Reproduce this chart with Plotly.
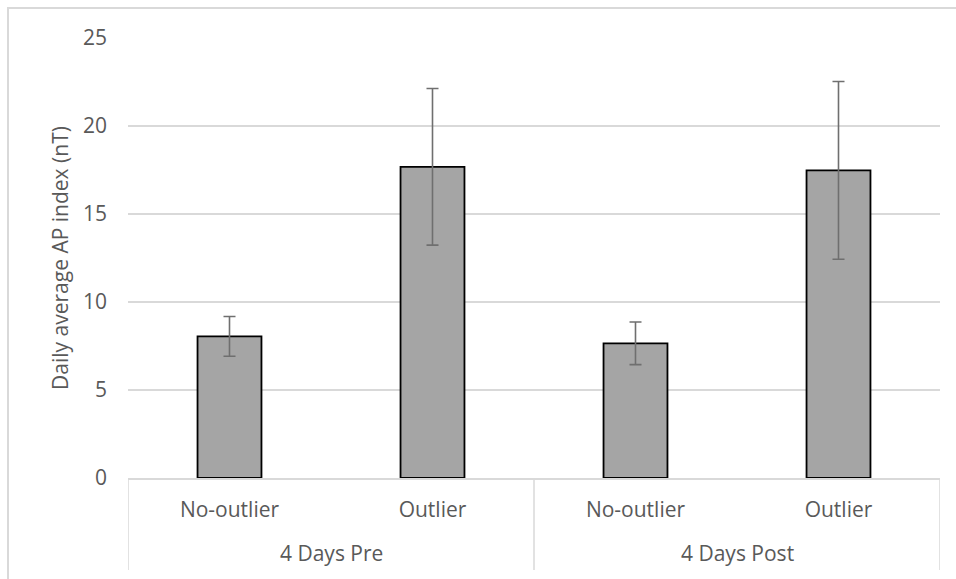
import plotly.graph_objects as go

# Period groups and sub-categories
periods = ["4 Days Pre", "4 Days Post"]
groups = ["No-outlier", "Outlier", "No-outlier", "Outlier"]

# Mean daily Ap index (nT) and error-bar half-lengths
ap_mean = [8.05, 17.68, 7.65, 17.48]
ap_err = [1.13, 4.45, 1.21, 5.05]

y_ticks = [0, 5, 10, 15, 20, 25]

FONT = "Open Sans, Lato, sans-serif"
TEXT = "#595959"
GRID = "#d9d9d9"
FS = 21

xpos = list(range(len(groups)))
per_group = len(groups) // len(periods)

# plot-area geometry in pixels (used to express offsets below the axis in paper units)
PLOT_H = 579 - 38 - 101

fig = go.Figure(
    go.Bar(
        x=xpos,
        y=ap_mean,
        marker=dict(color="#a5a5a5", line=dict(color="#000000", width=1.8)),
        error_y=dict(type="data", array=ap_err, visible=True,
                     color="#6f6f6f", thickness=1.6, width=6),
        width=0.315,
    )
)

shapes = [
    # outer chart frame
    dict(type="rect", xref="paper", yref="paper",
         x0=-120 / 812, x1=1.2, y0=-0.5, y1=1 + 30 / PLOT_H,
         line=dict(color=GRID, width=2), layer="below"),
]
# group dividers below the category axis
for k in range(len(periods) + 1):
    xd = k * per_group - 0.5
    shapes.append(dict(type="line", xref="x", yref="paper",
                       x0=xd, x1=xd, y0=0, y1=-92 / PLOT_H,
                       line=dict(color=GRID, width=1.5)))

annotations = []
for k, name in enumerate(periods):
    annotations.append(dict(
        x=k * per_group + (per_group - 1) / 2, xref="x",
        y=-75 / PLOT_H, yref="paper", yanchor="middle",
        text=name, showarrow=False,
        font=dict(family=FONT, color=TEXT, size=FS),
    ))

fig.update_layout(
    width=956,
    height=579,
    margin=dict(l=128, r=16, t=38, b=101),
    paper_bgcolor="white",
    plot_bgcolor="white",
    showlegend=False,
    font=dict(family=FONT, color=TEXT, size=FS),
    xaxis=dict(
        range=[-0.5, len(groups) - 0.5],
        tickvals=xpos,
        ticktext=groups,
        showline=True,
        linecolor=GRID,
        linewidth=1.5,
        showgrid=False,
        zeroline=False,
        ticks="outside",
        ticklen=12,
        tickcolor="rgba(0,0,0,0)",
        tickfont=dict(family=FONT, color=TEXT, size=FS),
    ),
    yaxis=dict(
        range=[0, 25],
        tickvals=y_ticks,
        showgrid=True,
        gridcolor=GRID,
        gridwidth=1.5,
        zeroline=False,
        showline=False,
        tickfont=dict(family=FONT, color=TEXT, size=FS),
        ticklabelstandoff=20,
        title=dict(text="Daily average AP index (nT)",
                   font=dict(family=FONT, color=TEXT, size=FS),
                   standoff=8),
    ),
    shapes=shapes,
    annotations=annotations,
)

fig.write_html("out.html")
